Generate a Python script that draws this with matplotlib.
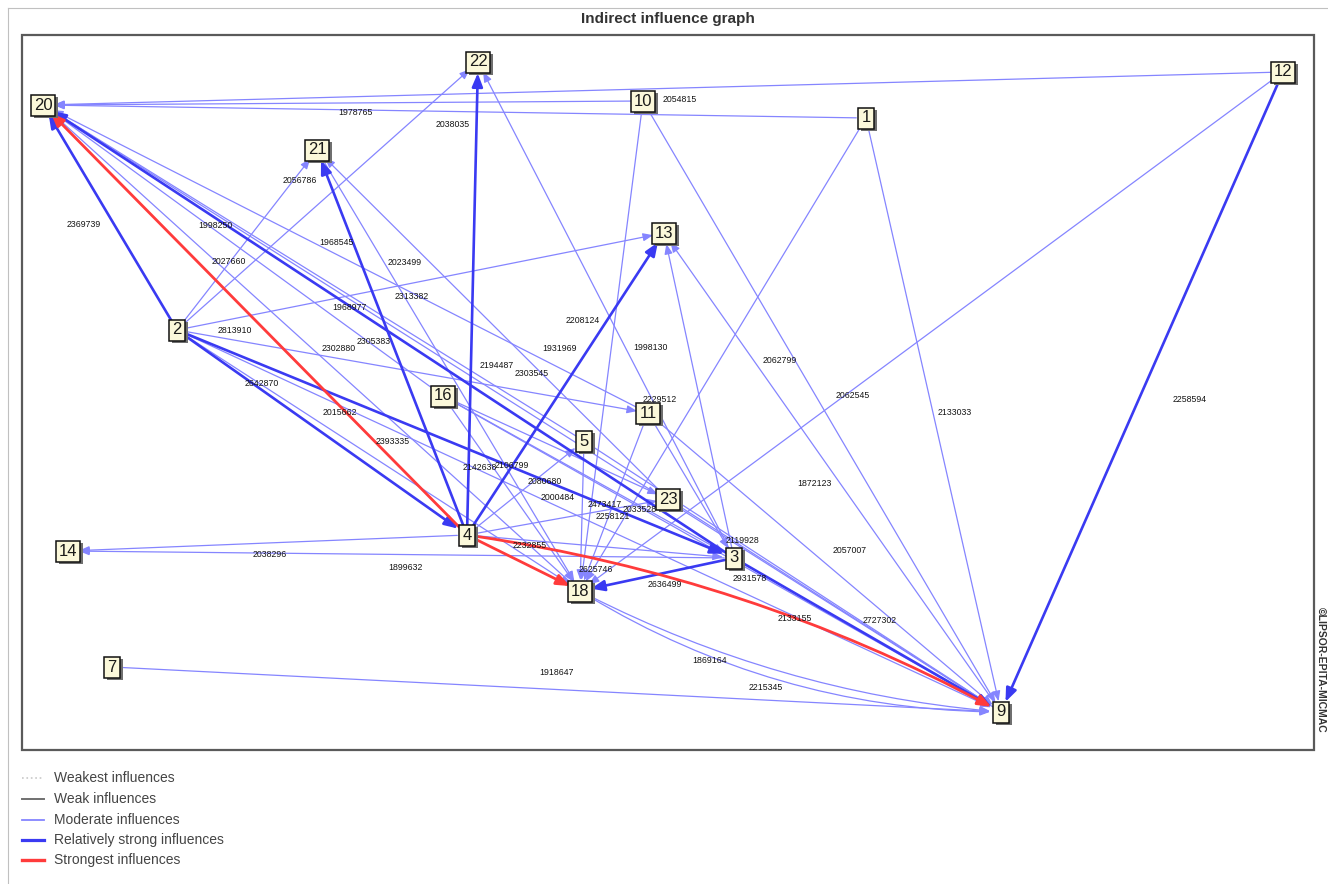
import matplotlib
matplotlib.use("Agg")
import matplotlib.pyplot as plt
from matplotlib.patches import FancyArrowPatch, Rectangle, ArrowStyle
from matplotlib.lines import Line2D

W, H = 1328, 884

# ---- graph layout (canvas pixels, y pointing down) ----
node_ids = ['1', '2', '3', '4', '5', '7', '9', '10', '11', '12', '13', '14',
            '16', '18', '20', '21', '22', '23']
node_x = [866, 177, 734, 467, 584, 112, 1001, 643, 648, 1283, 664, 68,
          443, 580, 43, 317, 478, 668]
node_y = [118, 330, 558, 535, 441, 667, 712, 101, 413, 72, 233, 551,
          396, 591, 105, 150, 62, 499]

# ---- indirect influences ----
edge_src = ['12', '10', '1', '2', '4', '3', '9', '18', '16', '11', '5',
            '4', '2', '3', '2', '4', '23', '2', '4', '3', '9',
            '4', '3', '10', '1', '12', '10', '1', '12', '7', '4', '4',
            '2', '2', '2', '2', '3', '3', '18', '18', '11', '5',
            '4', '4', '11', '16', '4', '16', '21', '11', '5',
            '16', '16', '23', '2']
edge_dst = ['20', '20', '20', '20', '20', '20', '20', '20', '20', '20', '20',
            '22', '22', '22', '21', '21', '21', '13', '13', '13', '13',
            '14', '14', '18', '18', '18', '9', '9', '9', '9', '9', '18',
            '4', '3', '9', '11', '18', '9', '9', '9', '9', '9',
            '3', '23', '18', '3', '5', '18', '18', '3', '18',
            '23', '9', '9', '18']
edge_value = [2054815, None, 1978765, 2369739, 2015662, 1968977, 1998250,
              2302880, 2305383, 2313382, 2194487,
              2038035, 2027660, 1998130, 2056786, 1968545, 2023499,
              2813910, 1931969, None, 1872123,
              2038296, 1899632, 2208124, 2229512, 2062545, 2062799, 2133033,
              2258594, 1918647, 2133155, None,
              2642870, 2393335, 2000484, 2303545, 2636499, 2931578,
              1869164, 2215345, 2057007, 2727302,
              2232855, 2473417, 2258121, 2033528, 2080680, 2142638, 2106799,
              2119928, 2625746,
              None, None, None, None]
# 0 weakest, 1 weak, 2 moderate, 3 relatively strong, 4 strongest
edge_level = [2, 2, 2, 3, 4, 3, 2, 2, 2, 2, 2,
              3, 2, 2, 2, 3, 2, 2, 3, 2, 2,
              2, 2, 2, 2, 2, 2, 2, 3, 2, 4, 4,
              3, 3, 2, 2, 3, 3, 2, 2, 2, 2,
              2, 2, 2, 2, 2, 2, 2, 2, 2,
              2, 2, 2, 2]

# ---- drawing details for each influence ----
edge_rad = [0.0] * len(edge_src)
edge_rad[30] = -0.09
edge_rad[38] = 0.10
edge_rad[39] = 0.14

label_t = [0.50, 0.5, 0.62, 0.467, 0.30, 0.556, 0.82, 0.428, 0.2325, 0.39, 0.155,
           0.867, 0.254, 0.425, 0.833, 0.761, 0.679, 0.119, 0.619, 0.5, 0.478,
           0.494, 0.494, 0.447, 0.596, 0.612, 0.424, 0.495, 0.5125, 0.50, 0.60, 0.5,
           0.293, 0.388, 0.462, 0.749, 0.448, 0.06, 0.32, 0.46, 0.572, 0.71,
           0.236, 0.687, 0.584, 0.677, 0.667, 0.369, 0.721, 0.876, 0.86,
           0.5, 0.5, 0.5, 0.5]
label_shift = [(17, 11), (0, 0), (0, 3), (-31, 0), (0, 7), (0, 1), (0, 11),
               (-12, -34), (24, 13), (0, 4), (-3, -23),
               (-24, 0), (-25, 0), (25, 0), (6, 0), (-16, 0), (-25, 0),
               (0, 12), (-29, 0), (0, 0), (-25, 0),
               (0, 12), (0, 13), (-32, 0), (-36, 0), (0, 6), (-15, 0), (22, 0),
               (51, 0), (0, -17), (0, 0), (0, 0),
               (0, -7), (0, 23), (0, -9), (2, -19), (0, 12), (0, 11),
               (0, 12), (0, 12), (0, -34), (0, -13),
               (0, 5), (0, -6), (4, 0), (0, 4), (0, 9), (-14, 0), (5, -2),
               (19, 0), (15, 0),
               (0, 0), (0, 0), (0, 0), (0, 0)]

legend_labels = ['Weakest influences', 'Weak influences', 'Moderate influences',
                 'Relatively strong influences', 'Strongest influences']

level_color = ['#c8c8c8', '#707070', '#8585ff', '#3a3af2', '#ff3b3b']
level_width = [0.8, 1.0, 0.9, 1.9, 2.0]
level_style = [':', '-', '-', '-', '-']

NARROW = ['Liberation Sans Narrow', 'Liberation Sans', 'DejaVu Sans']

pos = {n: (x, y) for n, x, y in zip(node_ids, node_x, node_y)}

fig = plt.figure(figsize=(W / 100, H / 100), dpi=100)
ax = fig.add_axes([0, 0, 1, 1])
ax.set_xlim(0, W)
ax.set_ylim(H, 0)
ax.axis('off')

# page and frame
ax.plot([8, W], [8, 8], color='#c0c0c0', lw=0.8, zorder=1)
ax.plot([8, 8], [8, H], color='#c0c0c0', lw=0.8, zorder=1)
ax.add_patch(Rectangle((22, 35), 1292, 715, fill=False, ec='#5a5a5a', lw=1.6, zorder=1))
ax.text(668, 19, 'Indirect influence graph', ha='center', va='center',
        fontsize=11, fontweight='bold', color='#333333',
        family=['Liberation Sans', 'DejaVu Sans'])
ax.text(1321, 670, '©LIPSOR-EPITA-MICMAC', rotation=-90, ha='center', va='center',
        fontsize=7.5, fontweight='bold', color='#333333',
        family=['Liberation Sans', 'DejaVu Sans'])


def bezier_point(p0, p2, rad, t):
    (x1, y1), (x2, y2) = p0, p2
    mx, my = (x1 + x2) / 2, (y1 + y2) / 2
    dx, dy = x2 - x1, y2 - y1
    cx, cy = mx - rad * dy, my + rad * dx
    a, b, c = (1 - t) ** 2, 2 * t * (1 - t), t ** 2
    return a * x1 + b * cx + c * x2, a * y1 + b * cy + c * y2


order = sorted(range(len(edge_src)), key=lambda i: edge_level[i])
for i in order:
    s, d, lv = edge_src[i], edge_dst[i], edge_level[i]
    p0, p2 = pos[s], pos[d]
    hl = 6 if lv < 3 else 8
    hw = 2.4 if lv < 3 else 3.2
    arr = FancyArrowPatch(p0, p2,
                          arrowstyle=ArrowStyle('-|>', head_length=hl, head_width=hw),
                          connectionstyle=f'arc3,rad={edge_rad[i]}',
                          shrinkA=7, shrinkB=8, mutation_scale=1,
                          color=level_color[lv], lw=level_width[lv],
                          linestyle=level_style[lv], zorder=2 + lv * 0.1)
    ax.add_patch(arr)

for i in range(len(edge_src)):
    if edge_value[i] is None:
        continue
    p0, p2 = pos[edge_src[i]], pos[edge_dst[i]]
    lx, ly = bezier_point(p0, p2, edge_rad[i], label_t[i])
    ox, oy = label_shift[i]
    ax.text(lx + ox, ly + oy, str(edge_value[i]), ha='center', va='center',
            fontsize=6.3, color='#151515', family=NARROW, zorder=4)

# variable boxes
node_texts = []
for n, x, y in zip(node_ids, node_x, node_y):
    t = ax.text(x, y, n, ha='center', va='center', fontsize=12, color='#1a1a1a',
                family=NARROW, zorder=6,
                bbox=dict(boxstyle='square,pad=0.18', fc='#fbf8da', ec='#111111', lw=1.1))
    node_texts.append(t)

# drop shadow behind each box
fig.canvas.draw()
renderer = fig.canvas.get_renderer()
inv = ax.transData.inverted()
for t in node_texts:
    bb = t.get_bbox_patch().get_window_extent(renderer)
    (xa, ya), (xb, yb) = inv.transform([[bb.x0, bb.y0], [bb.x1, bb.y1]])
    x0, y0 = min(xa, xb), min(ya, yb)
    ax.add_patch(Rectangle((x0 + 3, y0 + 3), abs(xb - xa), abs(yb - ya),
                           fc='#6f6f6f', ec='none', zorder=5))

# legend
leg_y = [778, 799, 820, 840, 860]
for k, (lab, yy) in enumerate(zip(legend_labels, leg_y)):
    ax.add_line(Line2D([22, 44], [yy, yy], color=level_color[k], lw=level_width[k] + 0.4,
                       linestyle=level_style[k]))
    ax.text(54, yy, lab, ha='left', va='center', fontsize=10, color='#444444',
            family=NARROW)

fig.savefig('out.png', dpi=100)
